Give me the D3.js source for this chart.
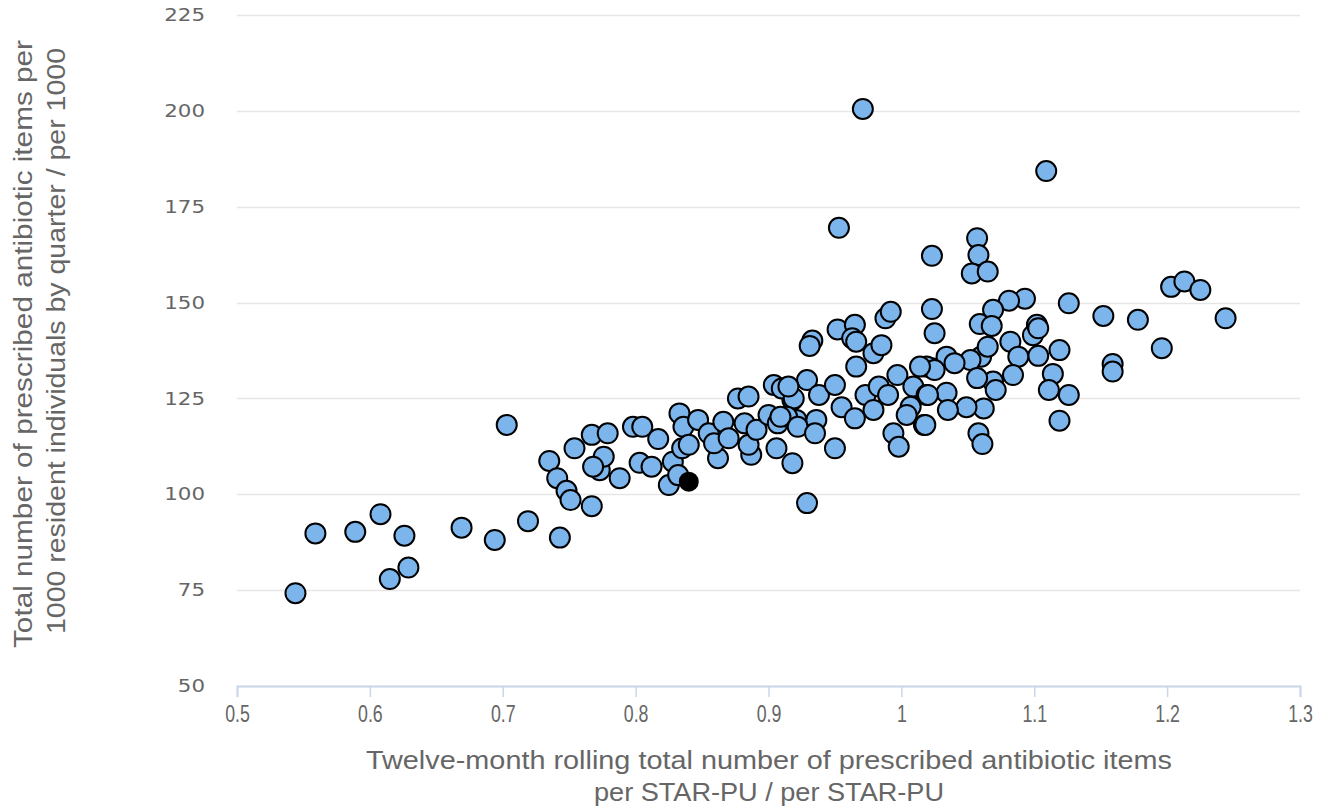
<!DOCTYPE html>
<html>
<head>
<meta charset="utf-8">
<script src="https://cdn.jsdelivr.net/npm/d3@7"></script>
<style>
  html, body { margin: 0; padding: 0; background: #ffffff; }
  svg { display: block; }
</style>
</head>
<body>
<svg id="chart" width="1318" height="810"></svg>
<script>
// ---- Data ----
const xValues = [
  0.544, 0.559, 0.589, 0.608, 0.626, 0.615, 0.629, 0.669, 0.694, 0.703,
  0.719, 0.735, 0.741, 0.743, 0.748, 0.751, 0.754, 0.767, 0.767, 0.779,
  0.773, 0.776, 0.768, 0.788, 0.798, 0.805, 0.803, 0.812, 0.817, 0.825,
  0.828, 0.833, 0.836, 0.835, 0.840, 0.832, 0.847, 0.855, 0.866, 0.862,
  0.859, 0.870, 0.877, 0.885, 0.882, 0.887, 0.885, 0.891, 0.900, 0.907,
  0.906, 0.904, 0.918, 0.918, 0.921, 0.929, 0.929, 0.910, 0.919, 0.914,
  0.922, 0.936, 0.935, 0.938, 0.950, 0.955, 0.950, 0.965, 0.973, 0.979,
  0.983, 0.990, 0.997, 1.009, 1.007, 1.004, 1.019, 1.017, 0.994, 0.998,
  0.952, 0.965, 0.933, 0.931, 0.963, 0.966, 0.979, 0.985, 0.966, 1.025,
  1.023, 1.019, 1.023, 1.023, 1.057, 1.058, 1.053, 1.065, 0.971, 1.109,
  0.953, 1.126, 1.152, 1.178, 1.203, 1.213, 1.225, 1.244, 1.196, 1.159,
  1.159, 1.119, 1.126, 1.119, 1.114, 1.111, 1.103, 1.099, 1.102, 1.093,
  1.081, 1.069, 1.059, 1.068, 1.082, 1.088, 1.084, 1.069, 1.071, 1.062,
  1.049, 1.058, 1.061, 1.034, 1.025, 1.060, 1.052, 1.057, 1.034, 1.035,
  1.018, 1.020, 1.040, 1.065, 1.103, 1.014, 0.988, 0.992, 0.909, 0.915
];
const yValues = [
  74.2, 89.8, 90.2, 94.8, 89.2, 77.9, 80.9, 91.3, 88.1, 118.1,
  93.0, 108.7, 104.2, 88.7, 100.9, 98.5, 112.0, 96.9, 115.5, 115.9,
  106.3, 109.8, 107.2, 104.2, 117.6, 117.6, 108.2, 107.2, 114.4, 102.4,
  108.5, 121.1, 117.6, 112.0, 112.9, 105.0, 119.4, 115.9, 118.9, 109.4,
  113.3, 114.6, 125.0, 125.5, 118.5, 110.3, 112.9, 116.8, 120.7, 118.5,
  112.0, 128.5, 124.6, 108.1, 119.4, 97.7, 129.8, 127.6, 125.0, 120.2,
  117.6, 119.4, 115.9, 125.9, 128.5, 122.7, 112.0, 119.8, 125.9, 122.0,
  128.1, 125.9, 131.1, 128.1, 122.8, 120.7, 125.9, 118.1, 115.9, 112.4,
  143.0, 144.2, 140.1, 138.7, 140.7, 139.8, 136.8, 138.9, 133.3, 142.0,
  132.9, 133.3, 148.3, 162.2, 166.8, 162.4, 157.6, 158.1, 200.5, 184.3,
  169.5, 149.8, 146.5, 145.5, 154.1, 155.5, 153.3, 145.9, 138.1, 134.0,
  132.0, 137.6, 125.9, 119.2, 131.4, 127.2, 136.1, 141.5, 144.2, 151.0,
  150.5, 148.1, 144.4, 143.9, 139.8, 135.9, 131.1, 129.4, 127.2, 122.4,
  122.7, 115.9, 113.1, 135.9, 132.4, 135.9, 135.0, 130.3, 126.5, 122.0,
  118.1, 125.9, 134.2, 138.5, 143.3, 133.3, 145.9, 147.6, 120.2, 128.1
];
// highlighted (black) point
const highlightX = [0.840];
const highlightY = [103.3];

const xTicks = [0.5, 0.6, 0.7, 0.8, 0.9, 1, 1.1, 1.2, 1.3];
const xTickLabels = ["0.5", "0.6", "0.7", "0.8", "0.9", "1", "1.1", "1.2", "1.3"];
const yTicks = [50, 75, 100, 125, 150, 175, 200, 225];
const yTickLabels = ["50", "75", "100", "125", "150", "175", "200", "225"];

const xTitleLines = ["Twelve-month rolling total number of prescribed antibiotic items", "per STAR-PU / per STAR-PU"];
const yTitleLines = ["Total number of prescribed antibiotic items per", "1000 resident individuals by quarter / per 1000"];

(function () {
// ---- Layout ----
const plotLeft = 237, plotRight = 1300, plotTop = 15, plotBottom = 686;
const svg = d3.select("#chart");

const x = d3.scaleLinear().domain([0.5, 1.3]).range([plotLeft, plotRight]);
const y = d3.scaleLinear().domain([50, 225]).range([plotBottom, plotTop]);

// gridlines
svg.append("g")
  .selectAll("line")
  .data(yTicks)
  .join("line")
  .attr("x1", plotLeft).attr("x2", plotRight)
  .attr("y1", d => Math.round(y(d)) + 0.5).attr("y2", d => Math.round(y(d)) + 0.5)
  .attr("stroke", "#e6e6e6").attr("stroke-width", 1.5);

// y tick labels
svg.append("g")
  .selectAll("text")
  .data(yTicks)
  .join("text")
  .attr("x", 205)
  .attr("y", d => y(d))
  .attr("dy", "0.36em")
  .attr("text-anchor", "end")
  .attr("font-family", "'DejaVu Sans', sans-serif")
  .attr("font-size", 17)
  .attr("fill", "#666666")
  .attr("textLength", (d, i) => yTickLabels[i].length * 13.6)
  .attr("lengthAdjust", "spacingAndGlyphs")
  .text((d, i) => yTickLabels[i]);

// x axis
const xAxis = d3.axisBottom(x)
  .tickValues(xTicks)
  .tickFormat((d, i) => xTickLabels[i])
  .tickSize(11)
  .tickPadding(8);
const gx = svg.append("g")
  .attr("transform", `translate(0,${plotBottom})`)
  .call(xAxis);
gx.attr("font-size", null).attr("font-family", null);
gx.select(".domain").attr("stroke", "#ccd6eb").attr("stroke-width", 2);
gx.selectAll(".tick line").attr("stroke", "#ccd6eb").attr("stroke-width", 1.5);
gx.selectAll(".tick text")
  .style("font-family", "'Liberation Sans', Arial, sans-serif")
  .style("font-size", "24px")
  .attr("fill", "#666666")
  .each(function () {
    const w = this.getComputedTextLength();
    d3.select(this).attr("textLength", w * 0.74).attr("lengthAdjust", "spacingAndGlyphs");
  });

// axis titles
const titleFont = "'Liberation Sans', Arial, sans-serif";
const xTitleLen = [806, 350];
svg.append("g")
  .selectAll("text")
  .data(xTitleLines)
  .join("text")
  .attr("x", 769)
  .attr("y", (d, i) => 769 + i * 32)
  .attr("text-anchor", "middle")
  .attr("font-family", titleFont)
  .attr("font-size", 26)
  .attr("fill", "#666666")
  .attr("textLength", (d, i) => xTitleLen[i])
  .attr("lengthAdjust", "spacingAndGlyphs")
  .text(d => d);

const yTitleLen = [608, 586];
const yTitleCenter = [344, 341];
svg.append("g")
  .selectAll("text")
  .data(yTitleLines)
  .join("text")
  .attr("transform", (d, i) => `translate(${32 + i * 33},${yTitleCenter[i]}) rotate(-90)`)
  .attr("text-anchor", "middle")
  .attr("font-family", titleFont)
  .attr("font-size", 26)
  .attr("fill", "#666666")
  .attr("textLength", (d, i) => yTitleLen[i])
  .attr("lengthAdjust", "spacingAndGlyphs")
  .text(d => d);

// points
const pts = xValues.map((v, i) => ({ x: v, y: yValues[i] }));
svg.append("g")
  .selectAll("circle")
  .data(pts)
  .join("circle")
  .attr("cx", d => x(d.x))
  .attr("cy", d => y(d.y))
  .attr("r", 10)
  .attr("fill", "#7cb5ec")
  .attr("stroke", "#000000")
  .attr("stroke-width", 2);

const hl = highlightX.map((v, i) => ({ x: v, y: highlightY[i] }));
svg.append("g")
  .selectAll("circle")
  .data(hl)
  .join("circle")
  .attr("cx", d => x(d.x))
  .attr("cy", d => y(d.y))
  .attr("r", 9)
  .attr("fill", "#000000")
  .attr("stroke", "#000000")
  .attr("stroke-width", 2);
})();
</script>
</body>
</html>
